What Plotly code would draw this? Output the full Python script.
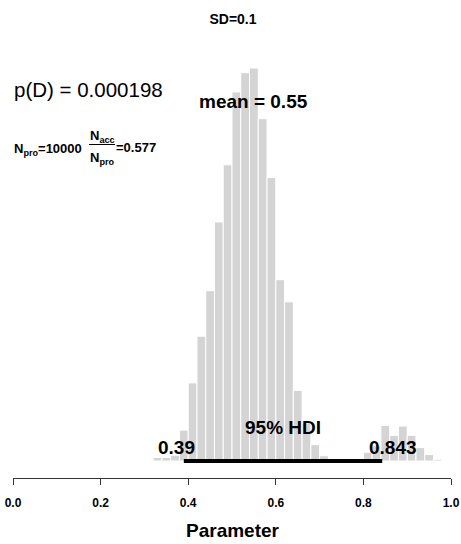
import plotly.graph_objects as go

# ---- data ----
bin_left = [0.32, 0.34, 0.36, 0.38, 0.40, 0.42, 0.44, 0.46, 0.48, 0.50,
            0.52, 0.54, 0.56, 0.58, 0.60, 0.62, 0.64, 0.66, 0.68, 0.70,
            0.72, 0.74, 0.76, 0.78, 0.80, 0.82, 0.84, 0.86, 0.88, 0.90,
            0.92, 0.94, 0.96]
counts = [6, 6, 10, 53, 134, 214, 292, 410, 508, 633,
          666, 674, 587, 486, 311, 273, 121, 65, 28, 9,
          1, 1, 1, 1, 15, 26, 61, 44, 60, 44,
          23, 11, 3]
bin_width = 0.02
hdi = [0.39, 0.843]
hdi_labels = ["0.39", "0.843"]
mean_value = 0.55
p_d = "0.000198"
n_pro = 10000
acc_ratio = "0.577"
title_text = "SD=0.1"
tick_vals = [0.0, 0.2, 0.4, 0.6, 0.8, 1.0]
tick_text = ["0.0", "0.2", "0.4", "0.6", "0.8", "1.0"]

# ---- layout geometry ----
W, H = 461, 544
ML, MR, MT, MB = 13, 10, 30, 66
PLOT_H = H - MT - MB
PLOT_W = W - ML - MR
AXIS_PX = H - MB          # pixel row of axis line
BASE_PX = 461             # pixel row of bar base
PX_PER_COUNT = 0.5831
ymin = -(AXIS_PX - BASE_PX) / PX_PER_COUNT
ymax = (BASE_PX - MT) / PX_PER_COUNT


def py(px):
    return (AXIS_PX - px) / PLOT_H


def pxx(px):
    return (px - ML) / PLOT_W


FONT = "Liberation Sans, Arial, Helvetica, sans-serif"
centers = [b + bin_width / 2 for b in bin_left]

fig = go.Figure()
fig.add_trace(go.Bar(
    x=centers, y=counts, width=bin_width,
    marker=dict(color="#d4d4d4", line=dict(color="white", width=1)),
    hoverinfo="skip", showlegend=False,
))
fig.add_trace(go.Scatter(
    x=hdi, y=[0, 0], mode="lines",
    line=dict(color="black", width=4),
    hoverinfo="skip", showlegend=False,
))

ann = []
ann.append(dict(text=f"p(D) = {p_d}", x=pxx(12), xref="paper", xanchor="left",
                y=py(90), yref="paper", yanchor="middle", showarrow=False,
                font=dict(size=20.5, color="black", family=FONT)))
ann.append(dict(text=f"<b>mean = {mean_value}</b>", x=mean_value, xref="x",
                xanchor="center", y=py(101.5), yref="paper", yanchor="middle",
                showarrow=False, font=dict(size=19, color="black", family=FONT)))
ann.append(dict(text="<b>95% HDI</b>", x=sum(hdi) / 2, xref="x",
                xanchor="center", y=py(427.5), yref="paper", yanchor="middle",
                showarrow=False, font=dict(size=19, color="black", family=FONT)))
for val, lab, sh in zip(hdi, hdi_labels, [-7.5, 10.5]):
    ann.append(dict(text=f"<b>{lab}</b>", x=val, xref="x", xanchor="center",
                    xshift=sh, y=py(447.5), yref="paper", yanchor="middle",
                    showarrow=False, font=dict(size=19, color="black", family=FONT)))
# N_pro and acceptance ratio
ann.append(dict(text=f"<b>N<sub>pro</sub>={n_pro}</b>", x=pxx(12), xref="paper",
                xanchor="left", y=py(149), yref="paper", yanchor="middle",
                showarrow=False, font=dict(size=13, color="black", family=FONT)))
ann.append(dict(text="<b>N<sub>acc</sub></b>", x=pxx(102), xref="paper",
                xanchor="center", y=py(136), yref="paper", yanchor="middle",
                showarrow=False, font=dict(size=13, color="black", family=FONT)))
ann.append(dict(text="<b>N<sub>pro</sub></b>", x=pxx(102), xref="paper",
                xanchor="center", y=py(158), yref="paper", yanchor="middle",
                showarrow=False, font=dict(size=13, color="black", family=FONT)))
ann.append(dict(text=f"<b>={acc_ratio}</b>", x=pxx(114), xref="paper",
                xanchor="left", y=py(147), yref="paper", yanchor="middle",
                showarrow=False, font=dict(size=13, color="black", family=FONT)))
ann.append(dict(text="<b>Parameter</b>", x=pxx(232.5), xref="paper", xanchor="center",
                y=py(530), yref="paper", yanchor="middle", showarrow=False,
                font=dict(size=19, color="black", family=FONT)))

shapes = [dict(type="line", xref="paper", yref="paper",
               x0=pxx(89), x1=pxx(115),
               y0=py(144.5), y1=py(144.5), line=dict(color="black", width=1))]

fig.update_layout(
    width=W, height=H,
    margin=dict(l=ML, r=MR, t=MT, b=MB, pad=0, autoexpand=False),
    paper_bgcolor="white", plot_bgcolor="white",
    bargap=0,
    title=dict(text=f"<b>{title_text}</b>", x=233 / W, xanchor="center",
               y=1 - 19 / H, yanchor="middle", automargin=False,
               font=dict(size=14, color="black", family=FONT)),
    xaxis=dict(range=[0, 1], tickvals=tick_vals, ticktext=tick_text,
               showgrid=False, zeroline=False, showline=True, automargin=False,
               linecolor="#333333", linewidth=1, ticks="outside",
               ticklen=6, tickcolor="#333333", tickwidth=1,
               ticklabelstandoff=8,
               tickfont=dict(size=12, color="black", family=FONT, weight="bold")),
    yaxis=dict(range=[ymin, ymax], visible=False, showgrid=False,
               zeroline=False, automargin=False),
    annotations=ann, shapes=shapes,
    font=dict(family=FONT),
)

fig.write_html("out.html",
               config={"displayModeBar": False, "staticPlot": True},
               post_script="document.body.style.margin='0';"
                           "document.body.style.padding='0';")
